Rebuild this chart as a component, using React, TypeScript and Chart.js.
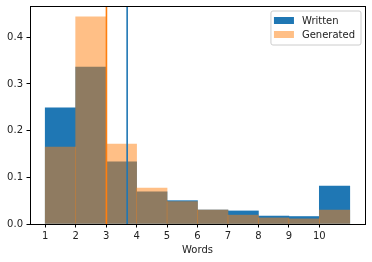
import { useEffect, useRef } from 'react';
import { Chart, registerables } from 'chart.js';
Chart.register(...registerables);

const binStarts = [1, 2, 3, 4, 5, 6, 7, 8, 9, 10];
const binWidth = 1;
const writtenValues = [0.249, 0.336, 0.133, 0.069, 0.050, 0.030, 0.028, 0.017, 0.016, 0.081];
const generatedValues = [0.165, 0.444, 0.171, 0.077, 0.048, 0.030, 0.019, 0.013, 0.011, 0.030];
const writtenMean = 3.69;
const generatedMean = 3.01;
const xTicks = [1, 2, 3, 4, 5, 6, 7, 8, 9, 10];
const yTicks = [0, 0.1, 0.2, 0.3, 0.4];
const xMin = 0.5;
const xMax = 11.5;
const yMax = 0.467;
const seriesLabels = ['Written', 'Generated'];
const xLabel = 'Words';

const BLUE = '#1f77b4';
const ORANGE = '#ff7f0e';
const ORANGE_FILL = 'rgba(255,127,14,0.5)';
const FONT = '"DejaVu Sans", sans-serif';

const framePlugin = {
  id: 'frame',
  afterDatasetsDraw(chart: any) {
    const { ctx, chartArea: a } = chart;
    ctx.save();
    ctx.strokeStyle = '#000';
    ctx.lineWidth = 1;
    ctx.strokeRect(Math.round(a.left) + 0.5, Math.round(a.top) + 0.5, Math.round(a.right - a.left), Math.round(a.bottom - a.top));
    ctx.restore();
  },
};

const legendPlugin = {
  id: 'boxLegend',
  afterDraw(chart: any) {
    const { ctx, chartArea: a } = chart;
    const items = chart.data.datasets.filter((d: any) => d.type === 'bar');
    ctx.save();
    ctx.font = `10px ${FONT}`;
    const textW = Math.max(...items.map((d: any) => ctx.measureText(d.label).width));
    const w = 3 + 20 + 8 + textW + 6;
    const h = 34;
    const right = a.right - 4;
    const left = right - w;
    const top = a.top + 5;
    ctx.beginPath();
    const r = 2;
    ctx.moveTo(left + r, top);
    ctx.lineTo(right - r, top);
    ctx.quadraticCurveTo(right, top, right, top + r);
    ctx.lineTo(right, top + h - r);
    ctx.quadraticCurveTo(right, top + h, right - r, top + h);
    ctx.lineTo(left + r, top + h);
    ctx.quadraticCurveTo(left, top + h, left, top + h - r);
    ctx.lineTo(left, top + r);
    ctx.quadraticCurveTo(left, top, left + r, top);
    ctx.closePath();
    ctx.fillStyle = 'rgba(255,255,255,0.8)';
    ctx.fill();
    ctx.strokeStyle = '#cccccc';
    ctx.lineWidth = 1;
    ctx.stroke();
    items.forEach((d: any, i: number) => {
      const cy = top + 9.5 + i * 14;
      ctx.fillStyle = d.backgroundColor;
      ctx.fillRect(left + 3, cy - 3.5, 20, 7);
      ctx.fillStyle = '#222';
      ctx.textBaseline = 'middle';
      ctx.textAlign = 'left';
      ctx.fillText(d.label, left + 31, cy + 0.5);
    });
    ctx.restore();
  },
};

export default function App() {
  const ref = useRef<HTMLCanvasElement>(null);
  useEffect(() => {
    if (!ref.current) return;
    const toBars = (vals: number[]) => vals.map((v, i) => ({ x: binStarts[i] + binWidth / 2, y: v }));
    const chart = new Chart(ref.current, {
      data: {
        datasets: [
          {
            type: 'line',
            label: 'generatedMean',
            data: [{ x: generatedMean, y: 0 }, { x: generatedMean, y: yMax }],
            borderColor: ORANGE,
            borderWidth: 1.6,
            pointRadius: 0,
            order: 0,
          },
          {
            type: 'line',
            label: 'writtenMean',
            data: [{ x: writtenMean, y: 0 }, { x: writtenMean, y: yMax }],
            borderColor: BLUE,
            borderWidth: 1.6,
            pointRadius: 0,
            order: 1,
          },
          {
            type: 'bar',
            label: seriesLabels[0],
            data: toBars(writtenValues),
            backgroundColor: BLUE,
            borderWidth: 0,
            barPercentage: 1,
            categoryPercentage: 1,
            grouped: false,
            order: 3,
          },
          {
            type: 'bar',
            label: seriesLabels[1],
            data: toBars(generatedValues),
            backgroundColor: ORANGE_FILL,
            borderWidth: 0,
            barPercentage: 1,
            categoryPercentage: 1,
            grouped: false,
            order: 2,
          },
        ] as any,
      },
      options: {
        responsive: false,
        animation: false,
        events: [],
        layout: { padding: { top: 6, right: 7, left: 0, bottom: 0 } },
        plugins: { legend: { display: false }, tooltip: { enabled: false } },
        scales: {
          x: {
            type: 'linear',
            offset: false,
            min: xMin,
            max: xMax,
            afterBuildTicks: (s: any) => { s.ticks = xTicks.map((v) => ({ value: v })); },
            afterFit: (s: any) => { s.height = 38; s.paddingLeft = 0; s.paddingRight = 0; },
            grid: { drawOnChartArea: false, drawTicks: true, tickLength: 3.5, color: '#000', offset: false },
            border: { display: false },
            ticks: { font: { family: FONT, size: 10 }, color: '#222', padding: 2.5, maxRotation: 0, autoSkip: false, callback: (v: any) => String(v) },
            title: { display: true, text: xLabel, font: { family: FONT, size: 10 }, color: '#222', padding: { top: 0, bottom: 6 } },
          },
          y: {
            type: 'linear',
            min: 0,
            max: yMax,
            afterBuildTicks: (s: any) => { s.ticks = yTicks.map((v) => ({ value: v })); },
            afterFit: (s: any) => { s.width = 30; s.paddingTop = 0; s.paddingBottom = 0; },
            grid: { drawOnChartArea: false, drawTicks: true, tickLength: 3.5, color: '#000' },
            border: { display: false },
            ticks: { font: { family: FONT, size: 10 }, color: '#222', padding: 3.5, callback: (v: any) => Number(v).toFixed(1) },
          },
        },
      } as any,
      plugins: [framePlugin, legendPlugin],
    });
    return () => chart.destroy();
  }, []);
  return (
    <div style={{ position: 'fixed', left: 0, top: 0, width: 372, height: 262, background: '#fff' }}>
      <canvas ref={ref} width={372} height={262} style={{ display: 'block' }} />
    </div>
  );
}
